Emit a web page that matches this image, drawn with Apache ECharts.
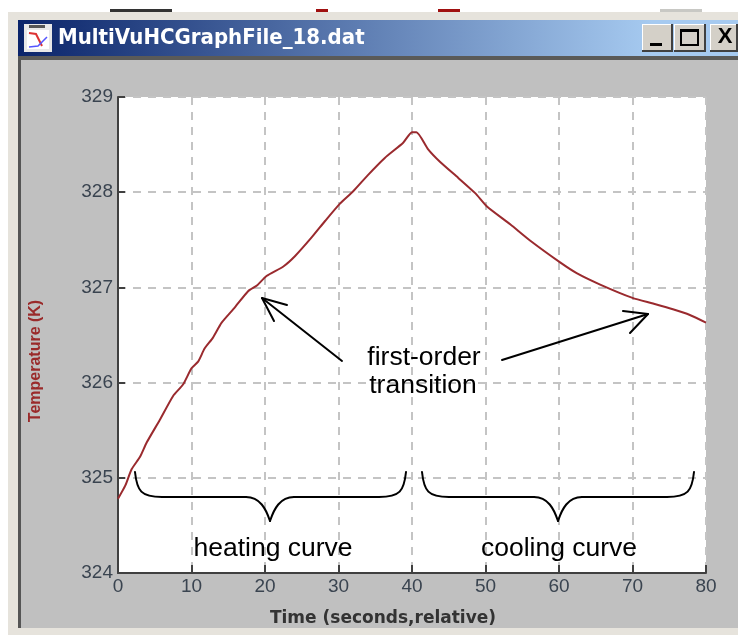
<!DOCTYPE html>
<html><head><meta charset="utf-8">
<style>html,body{margin:0;padding:0;background:#fff}#c{width:738px;height:635px}</style>
<script src="https://cdn.jsdelivr.net/npm/echarts@6/dist/echarts.min.js"></script>
</head><body><div id="c"></div>
<script>
const windowTitle = 'MultiVuHCGraphFile_18.dat';
const xTicks = [0,10,20,30,40,50,60,70,80];
const yTicks = [324,325,326,327,328,329];
const timeSeconds = [0,1,1.85,3,3.9,5.7,7.5,8.85,10,10.9,11.8,12.9,14.1,15.9,17.7,18.9,20.2,22.5,24.1,26.4,28.2,30.2,32,34,36.3,38.8,40,40.6,42.2,43.8,46.3,48.6,50.2,53.4,56.1,60.2,62.4,65.6,70,72.8,75.5,77.8,80];
const temperatureK = [324.78,324.92,325.09,325.22,325.37,325.61,325.86,325.98,326.15,326.22,326.36,326.47,326.63,326.79,326.96,327.02,327.12,327.22,327.33,327.53,327.7,327.88,328.01,328.18,328.36,328.52,328.63,328.63,328.45,328.32,328.15,327.99,327.85,327.66,327.49,327.26,327.15,327.03,326.89,326.83,326.77,326.71,326.63];

const chart = echarts.init(document.getElementById('c'), null, {renderer:'canvas'});
const F = 'Liberation Sans';
const rect = (x,y,w,h,fill,z)=>({type:'rect',shape:{x,y,width:w,height:h},style:{fill},z:z||0,silent:true});
const inkStyle = {fill:null,stroke:'#000',lineWidth:2,lineCap:'round',lineJoin:'round'};
const poly = (pts)=>({type:'polyline',shape:{points:pts},style:inkStyle,z:50,silent:true});
const bez = (x1,y1,a,b,c,d,x2,y2)=>({type:'bezierCurve',shape:{x1,y1,cpx1:a,cpy1:b,cpx2:c,cpy2:d,x2,y2},style:inkStyle,z:50,silent:true});
const brace = (l,r,m,top,mid,tip)=>[
  bez(l,top,l+2,mid-6,l+6,mid,l+27,mid),
  poly([[l+27,mid],[m-24,mid]]),
  bez(m-24,mid,m-10,mid,m-4,mid+12,m,tip),
  bez(m,tip,m+4,mid+12,m+10,mid,m+24,mid),
  poly([[m+24,mid],[r-27,mid]]),
  bez(r-27,mid,r-6,mid,r-2,mid-6,r,top)
];
const note = (t,x,y,s)=>({type:'text',x,y,style:{text:t,fill:'#000',font:(s||26.5)+'px "'+F+'"',textAlign:'center',textVerticalAlign:'middle'},z:50,silent:true});
const btn = (x,w)=>[rect(x,24,w,28,'#404040',-1),rect(x,24,w-2,26,'#ffffff',-1),rect(x+1,25,w-3,25,'#d4d0c8',-1)];

chart.setOption({
  animation:false,
  backgroundColor:'#fff',
  graphic:{elements:[
    rect(110,9,62,3,'#333',-5),rect(316,9,12,3,'#a01010',-5),rect(438,9,22,3,'#a01010',-5),rect(660,9,42,3,'#c8c8c4',-5),
    rect(8,12,730,623,'#e6e3dc',-5),
    rect(18,20,720,608,'#c0c0c0',-4),
    rect(18,20,3,608,'#555',-3),
    {type:'rect',shape:{x:18,y:20,width:720,height:36},style:{fill:new echarts.graphic.LinearGradient(0,0,1,0,[{offset:0,color:'#0a246a'},{offset:.88,color:'#a6caf0'},{offset:1,color:'#a6caf0'}])},z:-2,silent:true},
    rect(18,56,720,4,'#5a5a58',-2),
    rect(24,24,28,28,'#e8e8e8',-1),rect(27,30,22,19,'#fff',0),rect(29,25,16,3,'#555',0),
    {type:'polyline',shape:{points:[[29,33],[36,34],[42,46]]},style:{fill:null,stroke:'#d33',lineWidth:2},z:1,silent:true},
    {type:'polyline',shape:{points:[[29,47],[38,46],[47,37]]},style:{fill:null,stroke:'#55f',lineWidth:1.5},z:1,silent:true},
    {type:'text',x:58,y:38,style:{text:windowTitle,fill:'#fff',font:'bold 22px "DejaVu Sans Condensed","DejaVu Sans"',textVerticalAlign:'middle'},z:3,silent:true},
    ...btn(642,31),...btn(674,32),...btn(710,28),
    rect(650,43,12,3,'#000',3),
    {type:'rect',shape:{x:681,y:30,width:17,height:15},style:{fill:null,stroke:'#000',lineWidth:2},z:3,silent:true},
    rect(680,29,19,3,'#000',3),
    {type:'text',x:725,y:37,style:{text:'X',fill:'#000',font:'bold 22px "Liberation Sans"',textAlign:'center',textVerticalAlign:'middle'},z:3,silent:true},
    note('first-order',424,358),note('transition',423,386),
    note('heating curve',273,549),note('cooling curve',559,549),
    poly([[342,361],[262,298]]),poly([[287,305],[262,298],[274,321]]),
    poly([[502,360],[648,314]]),poly([[623,311],[648,314],[630,333]]),
    ...brace(135,406,270,472,497,521),
    ...brace(422,694,558,472,497,521)
  ]},
  grid:{left:118,right:32,top:97,bottom:62,show:true,backgroundColor:'#fff',borderWidth:0},
  xAxis:{type:'value',min:0,max:80,interval:10,
    name:'Time (seconds,relative)',nameLocation:'middle',nameGap:37,
    nameTextStyle:{color:'#333',fontFamily:'DejaVu Sans',fontWeight:'bold',fontSize:17,padding:[0,58,0,0]},
    axisLine:{show:true,lineStyle:{color:'#404040',width:2}},
    axisTick:{show:true,inside:true,length:8,lineStyle:{color:'#404040',width:2}},
    axisLabel:{color:'#3a4450',fontFamily:F,fontSize:19,margin:4,showMinLabel:true,showMaxLabel:true},
    splitLine:{show:true,lineStyle:{color:'#c4c4c4',width:2,type:[8,7]}}},
  yAxis:{type:'value',min:324,max:329,interval:1,
    name:'Temperature (K)',nameLocation:'middle',nameGap:74,nameRotate:90,
    nameTextStyle:{color:'#9a2a2a',fontFamily:F,fontWeight:'bold',fontSize:16,padding:[0,52,0,0]},
    axisLine:{show:true,onZero:false,lineStyle:{color:'#404040',width:2}},
    axisTick:{show:true,inside:true,length:7,lineStyle:{color:'#404040',width:2}},
    axisLabel:{color:'#3a4450',fontFamily:F,fontSize:19,margin:5,showMinLabel:true,showMaxLabel:true},
    splitLine:{show:true,lineStyle:{color:'#c4c4c4',width:2,type:[8,7]}}},
  series:[{type:'line',data:timeSeconds.map((t,i)=>[t,temperatureK[i]]),showSymbol:false,smooth:0.2,clip:false,
    lineStyle:{color:'#9a2a2e',width:2},z:10}]
});
</script></body></html>
